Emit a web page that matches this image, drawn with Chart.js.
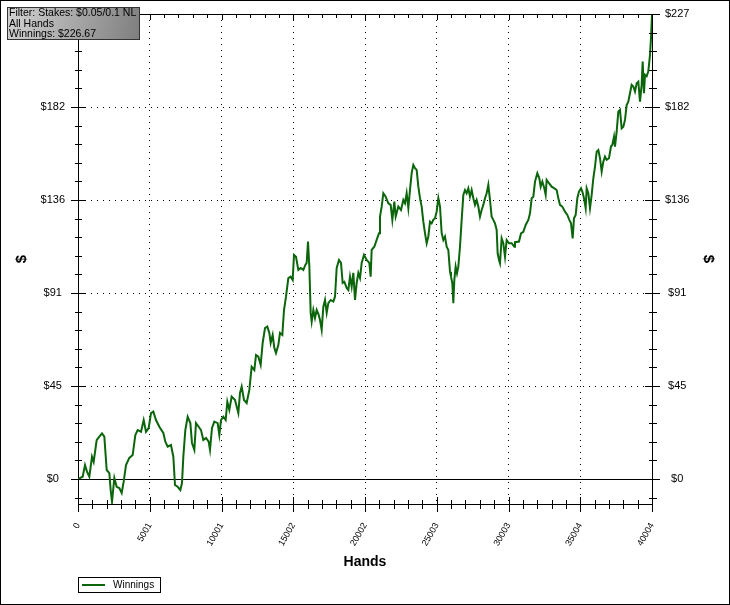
<!DOCTYPE html>
<html>
<head>
<meta charset="utf-8">
<script src="https://cdn.jsdelivr.net/npm/chart.js@4.4.1/dist/chart.umd.min.js"></script>
<style>
  html, body { margin: 0; padding: 0; background: #fff; }
  #wrap { width: 730px; height: 605px; }
</style>
</head>
<body>
<div id="wrap"><canvas id="grafico" width="730" height="605"></canvas></div>
<script>
const hands = [
  0, 93, 325, 488, 627, 790, 976, 1092, 1301, 1487, 1673, 1835, 2000, 2184, 2277,
  2370, 2533, 2695, 2881, 3044, 3184, 3345, 3577, 3810, 3996, 4159, 4391, 4577, 4739, 4925,
  5088, 5250, 5436, 5668, 5947, 6087, 6249, 6481, 6644, 6760, 6946, 7132, 7248, 7341, 7480,
  7643, 7829, 7945, 8108, 8224, 8410, 8572, 8735, 8921, 9107, 9200, 9339, 9502, 9734, 9850,
  9966, 10129, 10292,
  10407, 10547, 10709, 10942, 11174, 11290, 11407, 11569, 11755, 11941, 12104, 12290, 12405, 12568, 12731,
  12870, 13033, 13195, 13335, 13428, 13567, 13683, 13799, 13962, 14078, 14241, 14357, 14496, 14659, 14822,
  14961, 15054, 15193, 15356, 15519, 15705, 15844, 15937, 16030, 16123, 16216, 16286, 16402, 16518, 16634,
  16774, 16866, 16983, 17099, 17215, 17331, 17447, 17610, 17796, 17911, 18028, 18190, 18329, 18446, 18562,
  18725, 18841, 18957, 19073, 19189, 19305, 19421, 19538, 19654, 19770, 19932, 20118, 20304,
  20397, 20466, 20652, 20815, 20978, 21047, 21164, 21280, 21442, 21628, 21791, 21907, 22047, 22140, 22325,
  22511, 22674, 22790, 22906, 23022, 23138, 23254, 23370, 23487, 23603, 23719, 23835, 23951, 24067, 24183,
  24300, 24416, 24532, 24648, 24764, 24880, 24996, 25113, 25229, 25345, 25461, 25577, 25693, 25809, 25926,
  25995, 26088, 26158, 26228, 26320, 26414, 26506, 26622, 26739, 26855, 26971, 27087, 27203, 27319, 27435,
  27552, 27668, 27784, 27900, 28016, 28132, 28248, 28365, 28481, 28597, 28713, 28829, 28945, 29061, 29178,
  29247, 29340, 29410, 29526, 29642, 29759, 29875, 30037, 30223, 30409,
  30456, 30735, 30874, 31037, 31199, 31385, 31501, 31618, 31734, 31850, 32012, 32152, 32245, 32361, 32500,
  32593, 32663, 32825, 33011, 33197, 33360, 33476, 33592, 33755, 33940, 34103, 34242, 34359, 34475, 34568,
  34684, 34800, 34916, 35056, 35149, 35265, 35381, 35451, 35567, 35683, 35799, 35915, 36031, 36148, 36264,
  36380, 36496, 36612, 36728, 36844, 37007, 37146, 37239, 37356, 37425, 37541, 37657, 37773, 37890, 38006,
  38122, 38238, 38354, 38470, 38587, 38703, 38819, 38935, 39051, 39167, 39283, 39353, 39446, 39516, 39632,
  39748, 39864, 39934, 40004
];

const winnings = [
  0, 0.3, 1.1, 6.8, 3.6, 1.1, 10.9, 8.4, 19.0, 20.7, 22.3, 20.7, 4.4, 2.9, -5.4,
  -11.1, 0.5, -3.8, -4.4, -6.8, -1.3, 6.8, 10.3, 11.7, 21.5, 23.9, 23.1, 28.8, 23.1, 24.9,
  32.2, 32.9, 28.8, 25.5, 22.5, 18.2, 15.8, 16.6, 10.9, -2.9, -3.8, -5.4, -2.0, 10.9, 23.9,
  30.4, 27.3, 17.6, 14.2, 27.3, 25.5, 23.9, 19.0, 20.0, 18.2, 14.2, 24.9, 28.0, 27.3, 21.5,
  28.8, 30.4, 28.8,
  37.7, 33.7, 40.2, 38.6, 32.2, 42.0, 45.1, 38.6, 37.1, 43.5, 54.8, 53.2, 60.5, 59.7, 55.7,
  66.4, 73.7, 74.4, 71.3, 66.4, 70.3, 64.0, 61.5, 65.4, 71.3, 70.3, 82.5, 89.0, 98.1, 98.8,
  97.2, 109.4, 108.5, 102.1, 103.0, 102.1, 104.5, 105.5, 115.9, 103.7, 81.1, 76.8, 82.5, 78.6, 82.5,
  80.1, 77.6, 72.8, 84.1, 87.4, 81.1, 85.9, 87.4, 86.6, 89.0, 103.0, 106.9, 105.5, 95.7, 96.3,
  93.3, 92.3, 98.8, 93.9, 100.6, 87.4, 95.7, 100.6, 98.1, 105.5, 109.4, 106.9, 105.5,
  98.8, 111.8, 113.4, 116.7, 120.0, 128.1, 133.0, 139.5, 137.8, 134.6, 133.8, 126.5, 135.4, 128.1, 133.0,
  131.3, 136.2, 134.6, 139.5, 132.2, 141.1, 149.3, 153.3, 151.7, 150.9, 142.7, 137.1, 133.0, 125.6, 120.0,
  115.1, 118.4, 125.6, 124.8, 126.5, 127.3, 130.5, 137.1, 133.0, 120.0, 116.7, 118.4, 113.4, 111.8, 101.2,
  98.8, 95.6, 85.8, 97.2, 103.7, 100.4, 103.7, 113.4, 126.5, 138.7, 141.1, 139.5, 141.9, 137.8, 141.1,
  137.1, 133.8, 136.2, 133.0, 128.1, 131.3, 133.8, 137.1, 139.5, 143.6, 136.2, 128.1, 126.5, 124.8, 121.6,
  110.2, 106.9, 105.3, 117.5, 115.1, 108.5, 116.7, 115.1, 115.1, 113.4,
  115.6, 115.9, 119.9, 120.7, 124.0, 126.5, 129.7, 137.1, 137.8, 145.2, 149.3, 146.8, 142.7, 145.2, 141.9,
  138.7, 146.0, 144.4, 142.7, 141.9, 141.1, 137.1, 133.8, 133.0, 130.5, 128.9, 126.5, 124.8, 117.5, 127.3,
  128.9, 137.1, 140.3, 141.9, 140.3, 137.1, 132.2, 141.9, 139.5, 132.2, 138.7, 146.8, 152.5, 159.8, 160.6,
  156.6, 150.1, 154.9, 157.4, 155.8, 156.6, 162.3, 163.1, 167.1, 162.3, 169.6, 179.3, 180.2, 171.2, 172.0,
  175.3, 182.6, 184.2, 188.3, 192.4, 191.6, 189.1, 193.2, 194.0, 184.2, 192.4, 203.8, 188.3, 197.3, 196.6,
  199.0, 207.0, 215.2, 226.67
];

const xTickValues = [0, 5000.5, 10001, 15001.5, 20002, 25002.5, 30003, 35003.5, 40004];
const xTickLabels = ['0', '5001', '10001', '15002', '20002', '25003', '30003', '35004', '40004'];
const yTickValues = [0, 45.4, 90.8, 136.2, 181.6, 227];
const yTickLabels = ['$0', '$45', '$91', '$136', '$182', '$227'];
const filterLines = ['Filter: Stakes: $0.05/0.1 NL', 'All Hands', 'Winnings: $226.67'];

const Y_MIN = -12.2;
const Y_MAX = 227;
const VERDE = '#0b650b';
const FONTE = '"Liberation Sans", Arial, sans-serif';

// ticks menores, caixa de filtro, legenda e moldura
const decoracao = {
  id: 'decoracao',
  afterDraw(chart) {
    const ctx = chart.ctx;
    const area = chart.chartArea;
    const sx = chart.scales.x;
    const sy = chart.scales.y;
    ctx.save();
    ctx.strokeStyle = '#000';
    ctx.lineWidth = 1;

    const linha = (x1, y1, x2, y2) => {
      ctx.beginPath();
      ctx.moveTo(x1, y1);
      ctx.lineTo(x2, y2);
      ctx.stroke();
    };

    // eixo superior
    linha(area.left, Math.round(area.top) + 0.5, area.right + 1, Math.round(area.top) + 0.5);

    // ticks do eixo x
    const passoX = 40004 / 40;
    for (let i = 0; i <= 40; i++) {
      const px = Math.round(sx.getPixelForValue(i * passoX)) + 0.5;
      const maior = i % 5 === 0;
      const b = Math.round(area.bottom);
      linha(px, b - (maior ? 7 : 4), px, b + (maior ? 8 : 5));
      const t = Math.round(area.top);
      linha(px, t, px, t + (maior ? 6 : 4));
    }

    // ticks do eixo y
    const passoY = 227 / 25;
    for (let k = -1; k <= 25; k++) {
      const py = Math.round(sy.getPixelForValue(k * passoY)) + 0.5;
      const maior = k % 5 === 0;
      const l = Math.round(area.left);
      const r = Math.round(area.right);
      linha(l - (maior ? 7 : 3), py, l + (maior ? 7 : 4), py);
      linha(r - (maior ? 7 : 3), py, r + (maior ? 8 : 5), py);
    }

    // caixa do filtro
    const bx = 7.5, by = 7.5, bw = 132, bh = 32;
    const grad = ctx.createLinearGradient(bx, by, bx + bw, by + bh);
    grad.addColorStop(0, '#d2d2d2');
    grad.addColorStop(1, '#7e7e7e');
    ctx.fillStyle = grad;
    ctx.fillRect(bx, by, bw, bh);
    ctx.strokeStyle = '#333';
    ctx.strokeRect(bx, by, bw, bh);
    ctx.fillStyle = '#000';
    ctx.font = '10.5px ' + FONTE;
    ctx.textBaseline = 'alphabetic';
    ctx.textAlign = 'left';
    filterLines.forEach((txt, i) => ctx.fillText(txt, 9, 16 + i * 10.7));

    // legenda
    const ds = chart.data.datasets[0];
    ctx.fillStyle = '#fff';
    ctx.fillRect(78.5, 577.5, 82, 15);
    ctx.strokeStyle = '#000';
    ctx.strokeRect(78.5, 577.5, 82, 15);
    ctx.strokeStyle = ds.borderColor;
    ctx.lineWidth = 2;
    linha(82, 585, 105, 585);
    ctx.fillStyle = '#000';
    ctx.font = '10px ' + FONTE;
    ctx.textBaseline = 'middle';
    ctx.fillText(ds.label, 113, 585.5);

    // moldura
    ctx.lineWidth = 1;
    ctx.strokeStyle = '#000';
    ctx.strokeRect(0.5, 0.5, chart.width - 1, chart.height - 1);
    ctx.restore();
  }
};

const pontos = hands.map((h, i) => ({ x: h, y: winnings[i] }));

const eixoY = (posicao, comGrade) => ({
  type: 'linear',
  position: posicao,
  min: Y_MIN,
  max: Y_MAX,
  afterBuildTicks: (s) => { s.ticks = yTickValues.map(v => ({ value: v })); },
  afterFit: (s) => {
    s.width = 78;
    s.paddingTop = 0;
    s.paddingBottom = 0;
  },
  ticks: {
    padding: 13,
    crossAlign: 'center',
    color: '#000',
    font: { family: FONTE, size: 11 },
    callback: (v, i) => yTickLabels[i]
  },
  grid: {
    display: true,
    drawOnChartArea: comGrade,
    drawTicks: false,
    lineWidth: 1,
    color: (c) => (c.tick && c.tick.value === Y_MAX) ? 'rgba(0,0,0,0)' : '#000'
  },
  border: {
    display: true,
    color: '#000',
    width: 1,
    dash: (c) => (c.tick && c.tick.value === 0) ? [] : [1, 5]
  },
  title: {
    display: true,
    text: '$',
    color: '#000',
    font: { family: FONTE, size: 15, weight: 'bold' },
    padding: { top: 13, bottom: 0 }
  }
});

new Chart(document.getElementById('grafico').getContext('2d'), {
  type: 'line',
  data: {
    datasets: [{
      label: 'Winnings',
      data: pontos,
      borderColor: VERDE,
      backgroundColor: VERDE,
      borderWidth: 2,
      pointRadius: 0,
      tension: 0,
      fill: false,
      yAxisID: 'y'
    }]
  },
  options: {
    responsive: false,
    animation: false,
    layout: { padding: { top: 14, left: 0, right: 0, bottom: 0 } },
    plugins: {
      legend: { display: false },
      tooltip: { enabled: false }
    },
    scales: {
      x: {
        type: 'linear',
        min: 0,
        max: 40004,
        afterBuildTicks: (s) => { s.ticks = xTickValues.map(v => ({ value: v })); },
        afterFit: (s) => { s.height = 101; },
        ticks: {
          autoSkip: false,
          minRotation: 60,
          maxRotation: 60,
          padding: 17,
          color: '#000',
          font: { family: FONTE, size: 9 },
          callback: (v, i) => xTickLabels[i]
        },
        grid: {
          drawTicks: false,
          lineWidth: 1,
          color: (c) => (c.index === 0 || c.index === xTickValues.length - 1) ? 'rgba(0,0,0,0)' : '#000'
        },
        border: { display: true, color: '#000', width: 1, dash: [1, 5] },
        title: {
          display: true,
          text: 'Hands',
          color: '#000',
          font: { family: FONTE, size: 14, weight: 'bold' },
          padding: { top: 0, bottom: 34 }
        }
      },
      y: eixoY('left', true),
      y2: eixoY('right', false)
    }
  },
  plugins: [decoracao]
});
</script>
</body>
</html>
